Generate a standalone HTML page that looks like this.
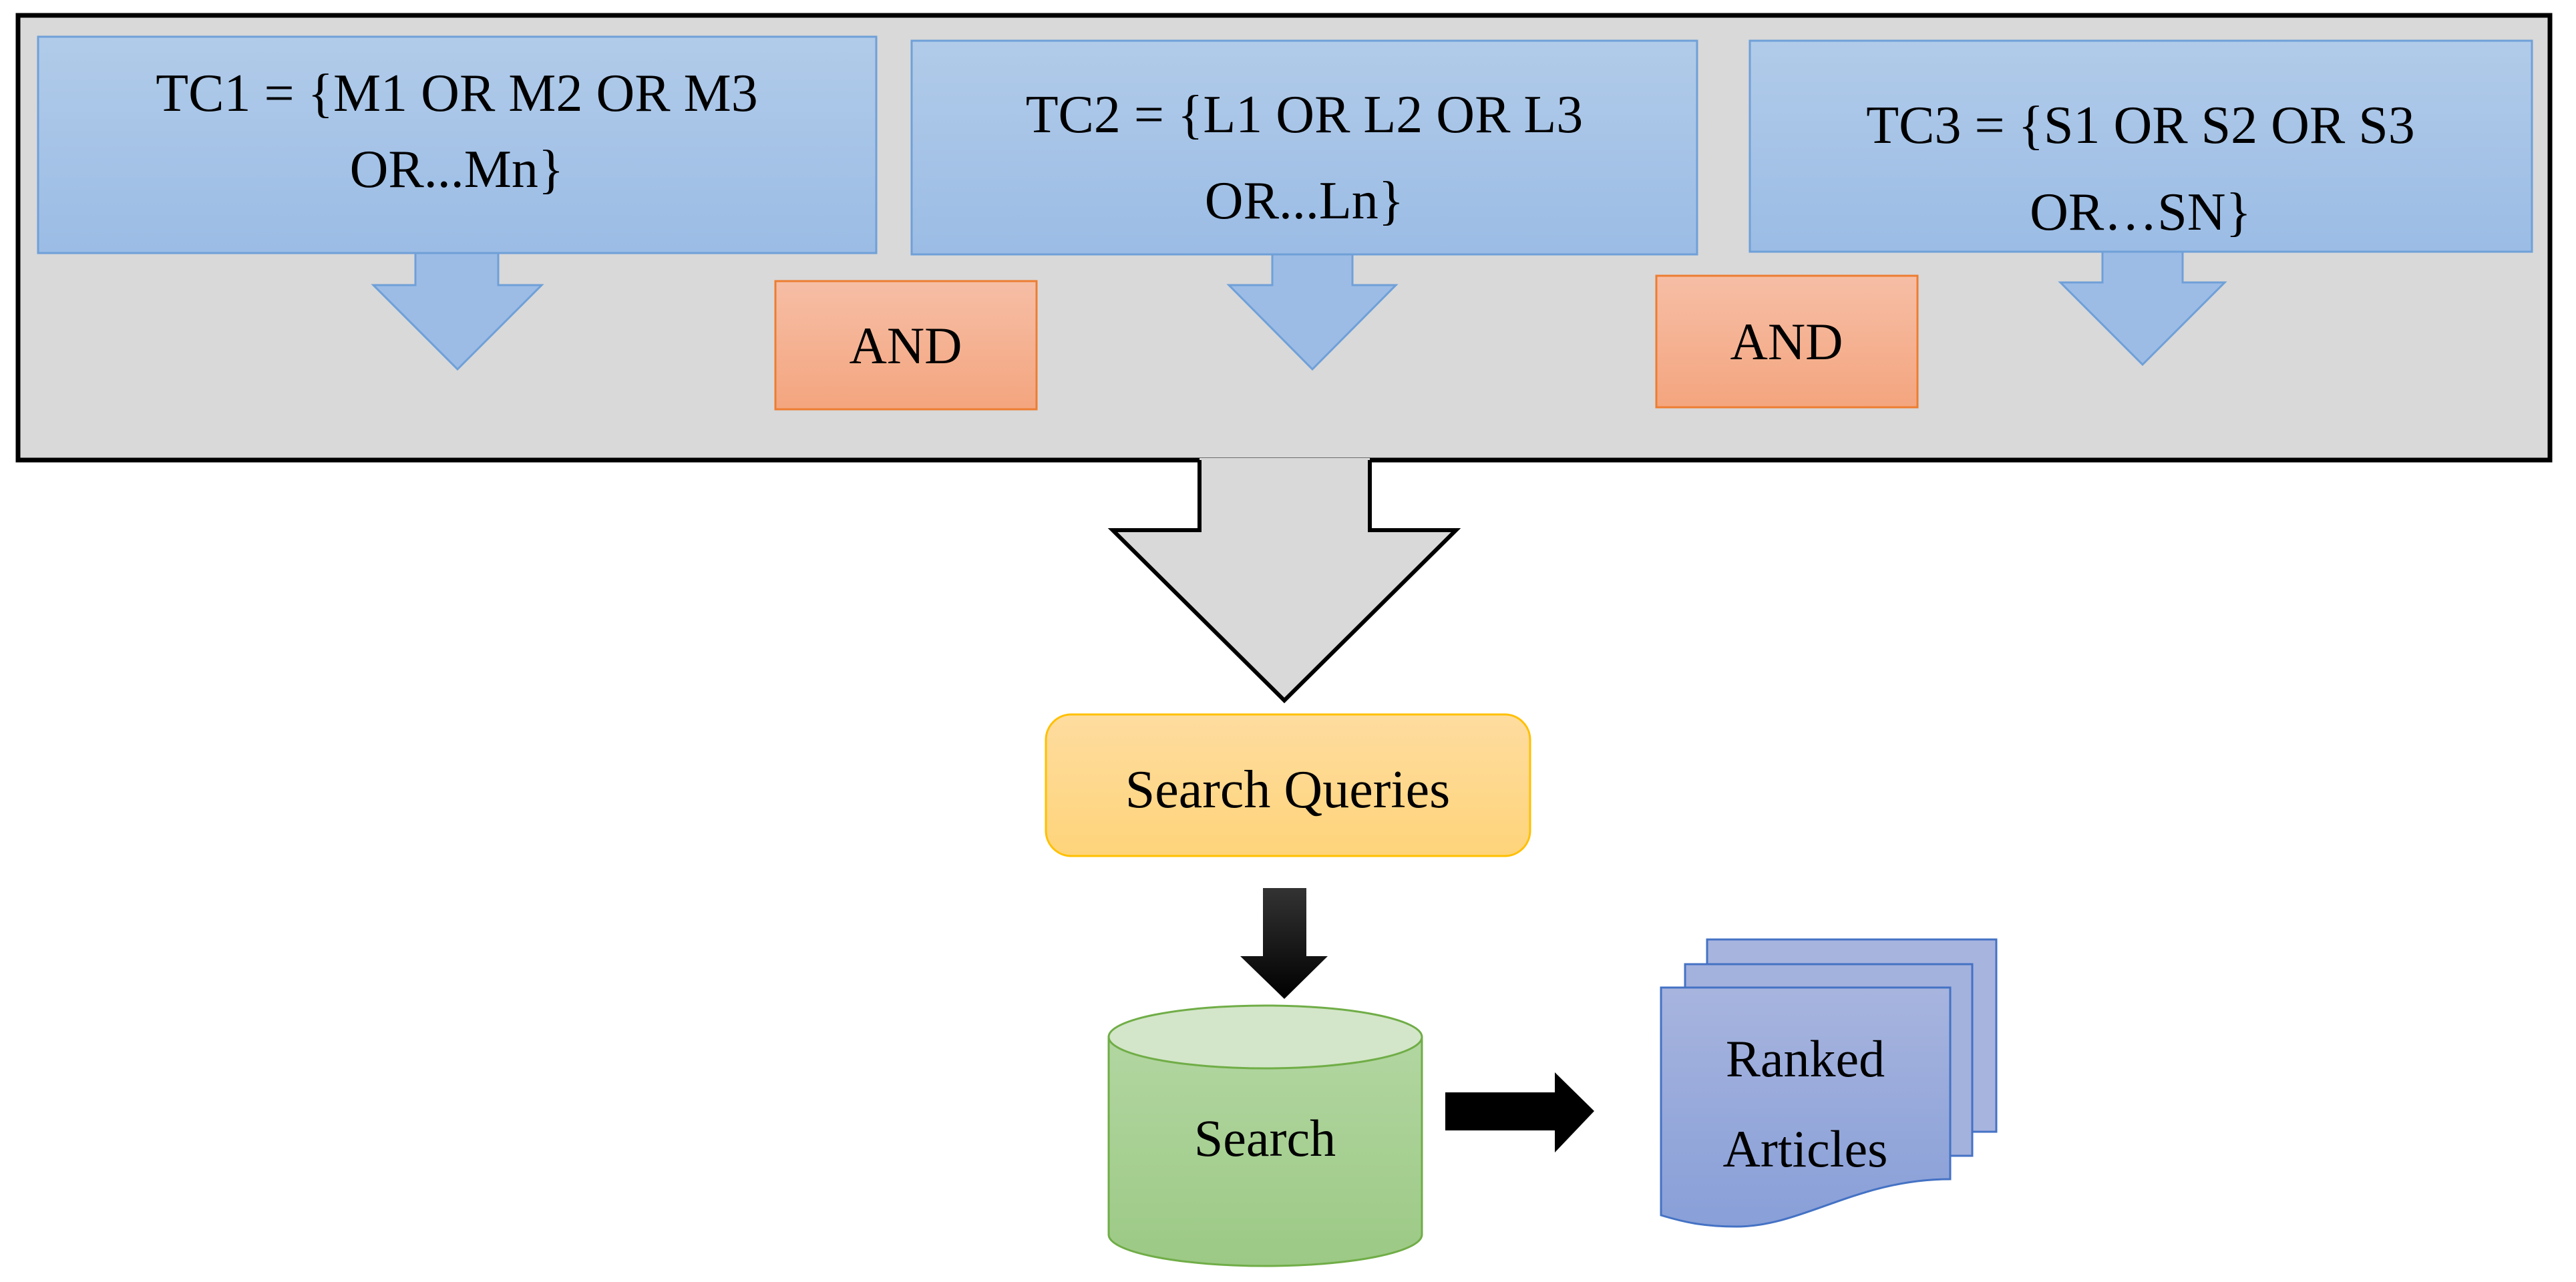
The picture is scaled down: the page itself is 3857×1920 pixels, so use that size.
<!DOCTYPE html>
<html><head><meta charset="utf-8"><style>html,body{margin:0;padding:0;background:#fff}svg{display:block}</style></head>
<body>
<svg width="3857" height="1920" viewBox="0 0 3857 1920" xmlns="http://www.w3.org/2000/svg" font-family="'Liberation Serif', serif">
<defs>
<linearGradient id="bl" x1="0" y1="0" x2="0" y2="1"><stop offset="0" stop-color="#b1cbe9"/><stop offset="1" stop-color="#9bbce5"/></linearGradient>
<linearGradient id="or" x1="0" y1="0" x2="0" y2="1"><stop offset="0" stop-color="#f6bea6"/><stop offset="1" stop-color="#f4a57e"/></linearGradient>
<linearGradient id="ye" x1="0" y1="0" x2="0" y2="1"><stop offset="0" stop-color="#fedc9f"/><stop offset="1" stop-color="#fed47a"/></linearGradient>
<linearGradient id="gr" x1="0" y1="0" x2="0" y2="1"><stop offset="0" stop-color="#b2d6a1"/><stop offset="1" stop-color="#9cc985"/></linearGradient>
<linearGradient id="pu" x1="0" y1="0" x2="0" y2="1"><stop offset="0" stop-color="#a7b4de"/><stop offset="1" stop-color="#889fd8"/></linearGradient>
<linearGradient id="bk" x1="0" y1="0" x2="0" y2="1"><stop offset="0" stop-color="#333"/><stop offset="1" stop-color="#000"/></linearGradient>
</defs>
<rect x="27" y="23" width="3791" height="666" fill="#d9d9d9" stroke="#000" stroke-width="7"/>
<polygon points="1796,686 2051,686 2051,794 2180,794 1923,1049 1666,794 1796,794" fill="#d9d9d9"/>
<polyline points="1796,689 1796,794 1666,794 1923,1049 2180,794 2051,794 2051,689" fill="none" stroke="#000" stroke-width="6"/>
<rect x="57" y="55" width="1255" height="324" fill="url(#bl)" stroke="#6fa0d8" stroke-width="3"/>
<rect x="1365" y="61" width="1176" height="320" fill="url(#bl)" stroke="#6fa0d8" stroke-width="3"/>
<rect x="2620" y="61" width="1171" height="316" fill="url(#bl)" stroke="#6fa0d8" stroke-width="3"/>
<g font-size="80" text-anchor="middle" fill="#000">
<text x="684" y="166">TC1 = {M1 OR M2 OR M3</text>
<text x="684" y="280">OR...Mn}</text>
<text x="1953" y="198">TC2 = {L1 OR L2 OR L3</text>
<text x="1953" y="327">OR...Ln}</text>
<text x="3205" y="214">TC3 = {S1 OR S2 OR S3</text>
<text x="3205" y="344">OR…SN}</text>
</g>
<polygon points="622,379 746,379 746,427 811,427 685,553 559,427 622,427" fill="#9cbce6" stroke="#6fa0d8" stroke-width="3"/>
<polygon points="1905,381 2025,381 2025,427 2090,427 1965,553 1840,427 1905,427" fill="#9cbce6" stroke="#6fa0d8" stroke-width="3"/>
<polygon points="3148,377 3268,377 3268,423 3331,423 3208,546 3085,423 3148,423" fill="#9cbce6" stroke="#6fa0d8" stroke-width="3"/>
<rect x="1161" y="421" width="391" height="192" fill="url(#or)" stroke="#ed7d31" stroke-width="3"/>
<rect x="2480" y="413" width="391" height="197" fill="url(#or)" stroke="#ed7d31" stroke-width="3"/>
<g font-size="78" text-anchor="middle"><text x="1356" y="544">AND</text><text x="2675" y="538">AND</text></g>
<rect x="1566" y="1070" width="725" height="212" rx="38" fill="url(#ye)" stroke="#ffc000" stroke-width="3"/>
<text x="1928" y="1209" font-size="80" text-anchor="middle">Search Queries</text>
<polygon points="1891,1330 1956,1330 1956,1432 1988,1432 1923,1496 1857,1432 1891,1432" fill="url(#bk)"/>
<path d="M1660,1553 L1660,1849 A234.5,47 0 0 0 2129,1849 L2129,1553 Z" fill="url(#gr)" stroke="#70ad47" stroke-width="3"/>
<ellipse cx="1894.5" cy="1553" rx="234.5" ry="47" fill="#d3e6c9" stroke="#70ad47" stroke-width="3"/>
<text x="1894" y="1731" font-size="78" text-anchor="middle">Search</text>
<polygon points="2164,1636 2328,1636 2328,1606 2387,1664 2328,1726 2328,1693 2164,1693" fill="#000"/>
<rect x="2556" y="1407" width="433" height="288" fill="#a7b4de" stroke="#4472c4" stroke-width="3"/>
<rect x="2523" y="1444" width="430" height="287" fill="#a3b1dd" stroke="#4472c4" stroke-width="3"/>
<path d="M2487,1479 L2920,1479 L2920,1766 C2780,1766 2700,1837 2600,1837 C2550,1837 2520,1830 2487,1820 Z" fill="url(#pu)" stroke="#4472c4" stroke-width="3"/>
<g font-size="78" text-anchor="middle"><text x="2703" y="1612">Ranked</text><text x="2703" y="1747">Articles</text></g>
</svg>
</body></html>
